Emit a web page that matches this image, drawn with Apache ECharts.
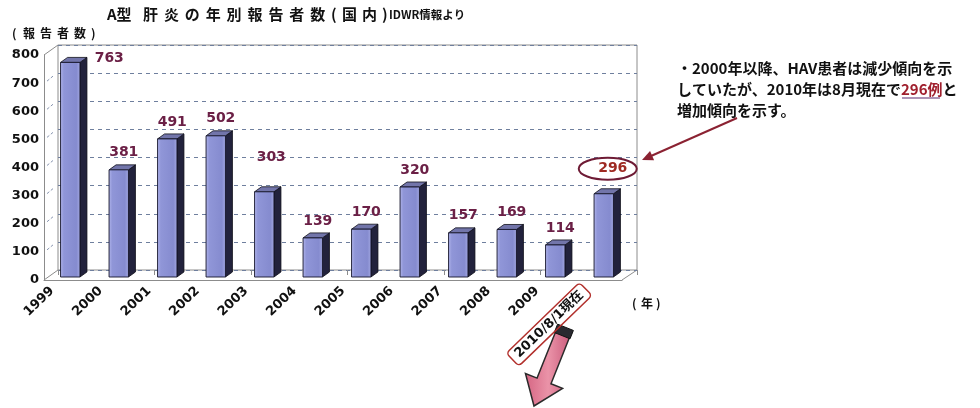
<!DOCTYPE html>
<html>
<head>
<meta charset="utf-8">
<script src="https://cdn.jsdelivr.net/npm/echarts@6/dist/echarts.min.js"></script>
<style>
  html, body { margin: 0; padding: 0; background: #ffffff; }
  #chart { width: 980px; height: 408px; }
</style>
</head>
<body>
<div id="chart"></div>
<script>
// Yearly reported hepatitis A cases (Japan, IDWR)
const years = ['1999', '2000', '2001', '2002', '2003', '2004', '2005', '2006', '2007', '2008', '2009', '2010/8/1現在'];
const reports = [763, 381, 491, 502, 303, 139, 170, 320, 157, 169, 114, 296];
const yMax = 800;
const yStep = 100;
const highlightIndex = 11;

// --- layout (pseudo-3D box) ---
const BACK = { left: 58, top: 45, right: 637, bottom: 270 };
const FRONT = { left: 44, top: 55, right: 622, bottom: 280 };
const BARS = { left: 46, top: 52, right: 628, bottom: 277 };
const DEPTH = [7, -5];

// value-label nudges (label centre relative to the bar's top centre)
const labelNudgeDefault = [5, -17];
const labelNudge = { 0: [39, -4], 4: [7, -34], 11: [9, -25] };

const chart = echarts.init(document.getElementById('chart'), null, { renderer: 'canvas' });

const boldNum = 'DejaVu Sans';
const jp = '"Noto Sans CJK JP", "Noto Sans CJK SC", sans-serif';

const frontFill = new echarts.graphic.LinearGradient(0, 0, 1, 0, [
  { offset: 0, color: '#b3b7ec' },
  { offset: 0.18, color: '#9096d8' },
  { offset: 0.8, color: '#858bcf' },
  { offset: 1, color: '#a4a9e2' }
]);

function renderBar(params, api) {
  const i = params.dataIndex;
  const v = api.value(1);
  const top = api.coord([api.value(0), v]);
  const base = api.coord([api.value(0), 0]);
  const w = api.size([1, 0])[0] * 0.4;
  const x0 = top[0] - w / 2, x1 = top[0] + w / 2;
  const yt = top[1], yb = base[1];
  const dx = DEPTH[0], dy = DEPTH[1];
  const nudge = labelNudge[i] || labelNudgeDefault;
  const lx = top[0] + nudge[0], ly = top[1] + nudge[1];
  const isHi = i === highlightIndex;
  const children = [
    { type: 'polygon', shape: { points: [[x1, yt], [x1 + dx, yt + dy], [x1 + dx, yb + dy], [x1, yb]] },
      style: { fill: '#22223c', stroke: '#0e0e18', lineWidth: 0.8 } },
    { type: 'polygon', shape: { points: [[x0, yt], [x0 + dx, yt + dy], [x1 + dx, yt + dy], [x1, yt]] },
      style: { fill: '#7275aa', stroke: '#0e0e18', lineWidth: 0.8 } },
    { type: 'rect', shape: { x: x0, y: yt, width: w, height: yb - yt },
      style: { fill: frontFill, stroke: '#15152a', lineWidth: 0.9 } },
    { type: 'text', x: lx, y: ly,
      style: { text: String(reports[i]), align: 'center', verticalAlign: 'middle',
        font: 'bold 14px ' + boldNum, fill: isHi ? '#9e2a22' : '#6b2046' } }
  ];
  if (isHi) {
    children.push({ type: 'ellipse', shape: { cx: lx - 5, cy: ly, rx: 29, ry: 11 },
      style: { fill: 'none', stroke: '#6e1b35', lineWidth: 2 } });
  }
  return { type: 'group', children: children };
}

// decorative frame pieces of the pseudo-3D box
const frameColor = '#8c8c8c';
const graphics = [];
function seg(x1, y1, x2, y2) {
  graphics.push({ type: 'line', silent: true, shape: { x1, y1, x2, y2 },
    style: { stroke: frameColor, lineWidth: 1 } });
}
seg(FRONT.left, FRONT.top, BACK.left, BACK.top);
seg(FRONT.left, FRONT.bottom, BACK.left, BACK.bottom);
seg(FRONT.right, FRONT.bottom, BACK.right, BACK.bottom);
// faint ticks across the left side face
for (let v = yStep; v < yMax; v += yStep) {
  const fy = FRONT.bottom - (FRONT.bottom - FRONT.top) * v / yMax;
  const by = BACK.bottom - (BACK.bottom - BACK.top) * v / yMax;
  graphics.push({ type: 'line', silent: true,
    shape: { x1: FRONT.left + 3, y1: fy - 2, x2: FRONT.left + 9, y2: (fy + by) / 2 - 2 },
    style: { stroke: '#8895b0', lineWidth: 1, lineDash: [3, 2] } });
}

// title with wide character pitch
function txt(str, x, y, font, fill) {
  graphics.push({ type: 'text', x, y,
    style: { text: str, font, fill: fill || '#111', verticalAlign: 'middle' } });
}
const titleFont = 'bold 15px ' + jp;
txt('A型', 107, 14, titleFont);
'肝炎の年別報告者数'.split('').forEach((c, k) => txt(c, 143 + 20.9 * k, 14, titleFont));
txt('(', 331, 14, titleFont);
txt('国', 342, 14, titleFont);
txt('内', 362, 14, titleFont);
txt(')', 382, 14, titleFont);
txt('IDWR情報より', 389, 15, 'bold 11.5px ' + jp);

// y-axis name
const axisNameFont = 'bold 12px ' + jp;
txt('(', 12, 33, axisNameFont);
'報告者数'.split('').forEach((c, k) => txt(c, 23 + 17 * k, 33, axisNameFont));
txt(')', 91, 33, axisNameFont);
// x-axis unit
txt('(', 632, 303, axisNameFont);
txt('年', 641, 303, axisNameFont);
txt(')', 656, 303, axisNameFont);

// annotation
const noteFont = 'bold 15px ' + jp;
graphics.push({ type: 'text', x: 677, y: 68, style: { text: '・2000年以降、HAV患者は減少傾向を示', font: noteFont, fill: '#111', verticalAlign: 'middle' } });
graphics.push({ type: 'text', x: 677, y: 89, style: {
  text: '{a|していたが、2010年は8月現在で}{r|296例}{a|と}', verticalAlign: 'middle',
  rich: { a: { font: noteFont, fill: '#111' }, r: { font: noteFont, fill: '#a0202e' } } } });
graphics.push({ type: 'line', silent: true, shape: { x1: 902, y1: 98, x2: 940, y2: 98 }, style: { stroke: '#5a2a6e', lineWidth: 1.2 } });
graphics.push({ type: 'text', x: 677, y: 110, style: { text: '増加傾向を示す。', font: noteFont, fill: '#111', verticalAlign: 'middle' } });

// thin pointer to the 2010 value
graphics.push({ type: 'line', silent: true, shape: { x1: 737, y1: 118, x2: 651, y2: 156 }, style: { stroke: '#8b2232', lineWidth: 2 } });
(function () {
  const tip = [642, 160], from = [737, 118];
  const len = Math.hypot(tip[0] - from[0], tip[1] - from[1]);
  const u = [(tip[0] - from[0]) / len, (tip[1] - from[1]) / len];
  const n = [-u[1], u[0]];
  const hb = [tip[0] - u[0] * 11, tip[1] - u[1] * 11];
  graphics.push({ type: 'polygon', silent: true,
    shape: { points: [tip, [hb[0] + n[0] * 5, hb[1] + n[1] * 5], [hb[0] - n[0] * 5, hb[1] - n[1] * 5]] },
    style: { fill: '#8b2232' } });
})();

// big pink arrow under the 2010 label
(function () {
  const T = [564, 331], P = [534, 406];
  const len = Math.hypot(P[0] - T[0], P[1] - T[1]);
  const u = [(P[0] - T[0]) / len, (P[1] - T[1]) / len];
  const n = [-u[1], u[0]];
  const at = (p, a, b) => [p[0] + u[0] * a + n[0] * b, p[1] + u[1] * a + n[1] * b];
  const headLen = 27, shaftW = 7.5, headW = 20;
  const Hb = at(P, -headLen, 0);
  graphics.push({ type: 'polygon', silent: true,
    shape: { points: [at(T, 0, shaftW), at(Hb, 0, shaftW), at(Hb, 0, headW), P, at(Hb, 0, -headW), at(Hb, 0, -shaftW), at(T, 0, -shaftW)] },
    style: {
      fill: new echarts.graphic.LinearGradient(0, 0, 1, 0, [{ offset: 0, color: '#d56482' }, { offset: 0.5, color: '#ea93a8' }, { offset: 1, color: '#c9597a' }]),
      stroke: '#2b2b2b', lineWidth: 1.5 } });
  graphics.push({ type: 'polygon', silent: true,
    shape: { points: [at(T, -4, shaftW + 1), at(T, 5, shaftW + 1), at(T, 5, -shaftW - 1), at(T, -4, -shaftW - 1)] },
    style: { fill: '#2a2a30', stroke: '#111', lineWidth: 1 } });
})();

const option = {
  backgroundColor: '#ffffff',
  animation: false,
  grid: [
    { left: BACK.left, top: BACK.top, width: BACK.right - BACK.left, height: BACK.bottom - BACK.top,
      show: true, borderColor: frameColor, borderWidth: 1, backgroundColor: 'transparent' },
    { left: FRONT.left, top: FRONT.top, width: FRONT.right - FRONT.left, height: FRONT.bottom - FRONT.top },
    { left: BARS.left, top: BARS.top, width: BARS.right - BARS.left, height: BARS.bottom - BARS.top },
    { left: 28, top: FRONT.top, width: BARS.right - BARS.left, height: FRONT.bottom - FRONT.top }
  ],
  xAxis: [
    { type: 'category', gridIndex: 0, data: years, axisLine: { show: false },
      axisTick: { show: true, inside: false, length: 5, lineStyle: { color: frameColor } },
      axisLabel: { show: false } },
    { type: 'category', gridIndex: 1, data: years,
      axisLine: { show: true, lineStyle: { color: frameColor, width: 1 } },
      axisTick: { show: false }, axisLabel: { show: false } },
    { type: 'category', gridIndex: 2, data: years, show: false },
    { type: 'category', gridIndex: 3,
      data: years.map((y, i) => i === highlightIndex
        ? { value: y, textStyle: { borderColor: '#b2302c', borderWidth: 1.5, borderRadius: 4, padding: [3, 6, 2, 6] } }
        : y),
      axisLine: { show: false }, axisTick: { show: false },
      axisLabel: { interval: 0, rotate: 44, margin: 9, color: '#111',
        fontFamily: boldNum + ', "Noto Sans CJK JP"', fontWeight: 'bold', fontSize: 13 } }
  ],
  yAxis: [
    { type: 'value', gridIndex: 0, min: 0, max: yMax, interval: yStep,
      axisLine: { show: false }, axisTick: { show: false }, axisLabel: { show: false },
      splitLine: { show: true, lineStyle: { color: '#6f7f9e', type: [4, 4], width: 1 } } },
    { type: 'value', gridIndex: 1, min: 0, max: yMax, interval: yStep,
      axisLine: { show: true, lineStyle: { color: frameColor, width: 1 } },
      axisTick: { show: false }, splitLine: { show: false },
      axisLabel: { margin: 5, color: '#111', fontFamily: boldNum, fontWeight: 'bold', fontSize: 13 } },
    { type: 'value', gridIndex: 2, min: 0, max: yMax, show: false },
    { type: 'value', gridIndex: 3, min: 0, max: yMax, show: false }
  ],
  series: [
    {
      type: 'custom', xAxisIndex: 2, yAxisIndex: 2,
      renderItem: renderBar,
      encode: { x: 0, y: 1 },
      data: reports.map((v, i) => [i, v]),
      clip: false
    },
    { type: 'line', xAxisIndex: 3, yAxisIndex: 3, data: [], silent: true }
  ],
  graphic: graphics
};

chart.setOption(option);
</script>
</body>
</html>
